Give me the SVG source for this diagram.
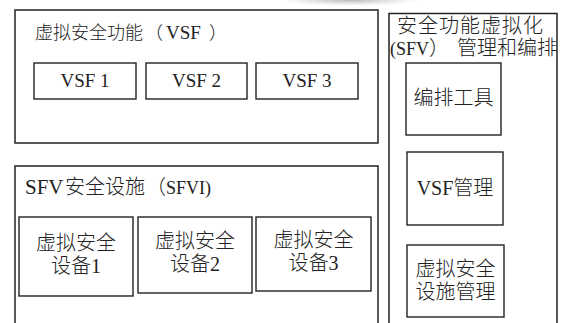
<svg xmlns="http://www.w3.org/2000/svg" width="563" height="323" viewBox="0 0 563 323">
<style>
.frame{fill:none;stroke:#222;stroke-width:1.5}
.box{fill:#fff;stroke:#222;stroke-width:1.4}
text{font-family:'Liberation Serif','Noto Sans CJK SC',serif;fill:#222;font-weight:300}
.lat{font-family:'Liberation Serif','Times New Roman','DejaVu Serif','Noto Serif',serif;font-weight:400}
.t18{font-size:18px}
.t19{font-size:19px}
.t20{font-size:20px}
.c{text-anchor:middle}
</style>
<defs>
<radialGradient id="smudge" cx="0.5" cy="0.5" r="0.5">
<stop offset="0" stop-color="#9a9a9a" stop-opacity="0.7"/>
<stop offset="1" stop-color="#bbb" stop-opacity="0"/>
</radialGradient>
</defs>
<rect width="563" height="323" fill="#fff"/>
<ellipse cx="350" cy="0" rx="70" ry="6" fill="url(#smudge)"/>
<g id="vsf">
<rect class="frame" x="15" y="10" width="363" height="133"/>
<text class="t18" x="35" y="39">虚拟安全功能<tspan x="145">（</tspan><tspan class="lat" x="166" font-size="19">VSF</tspan><tspan x="209">）</tspan></text>
</g>
<g id="vsf1"><rect class="box" x="34" y="63" width="102" height="36"/><text class="t19 c lat" x="85" y="87">VSF 1</text></g>
<g id="vsf2"><rect class="box" x="146" y="63" width="101" height="36"/><text class="t19 c lat" x="196.5" y="87">VSF 2</text></g>
<g id="vsf3"><rect class="box" x="256" y="63" width="102" height="36"/><text class="t19 c lat" x="307" y="87">VSF 3</text></g>
<g id="sfvi">
<rect class="frame" x="15" y="166" width="363" height="170"/>
<text class="t20" x="25" y="194"><tspan class="lat" font-size="21">SFV</tspan><tspan x="65">安全设施</tspan><tspan x="146">（</tspan><tspan class="lat" x="166" font-size="18">SFVI)</tspan></text>
</g>
<g id="dev1"><rect class="box" x="19" y="217" width="114" height="79"/><text class="t20 c" x="76" y="250">虚拟安全</text><text class="t20 c" x="76" y="273">设备<tspan class="lat">1</tspan></text></g>
<g id="dev2"><rect class="box" x="138" y="217" width="114" height="76"/><text class="t20 c" x="195" y="248">虚拟安全</text><text class="t20 c" x="195" y="271">设备<tspan class="lat">2</tspan></text></g>
<g id="dev3"><rect class="box" x="256" y="217" width="115" height="74"/><text class="t20 c" x="313.5" y="247">虚拟安全</text><text class="t20 c" x="313.5" y="270">设备<tspan class="lat">3</tspan></text></g>
<g id="mano">
<rect class="frame" x="389" y="13.5" width="168" height="320"/>
<text class="t20" x="397" y="33" letter-spacing="1">安全功能虚拟化</text>
<text class="t20" x="390" y="55"><tspan class="lat" font-size="18">(SFV</tspan><tspan x="429">）</tspan><tspan x="457">管理和编排</tspan></text>
</g>
<g id="orch"><rect class="box" x="406" y="63" width="95" height="72"/><text class="t20 c" x="453.5" y="105">编排工具</text></g>
<g id="vsfm"><rect class="box" x="407" y="152" width="96" height="73"/><text class="t20 c" x="455" y="195"><tspan class="lat">VSF</tspan>管理</text></g>
<g id="infm"><rect class="box" x="407" y="245" width="97" height="72"/><text class="t20 c" x="455.5" y="276">虚拟安全</text><text class="t20 c" x="455.5" y="299">设施管理</text></g>
<g id="connectors"></g>
</svg>
